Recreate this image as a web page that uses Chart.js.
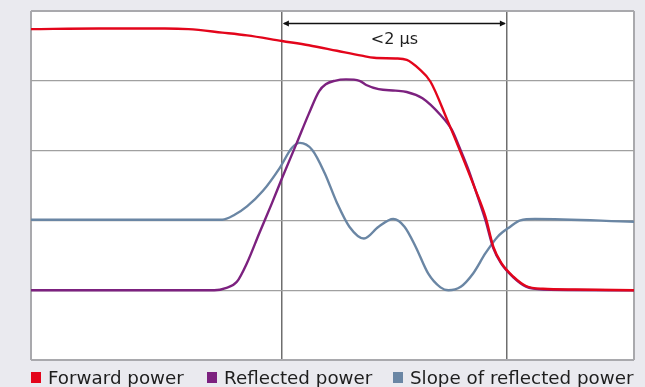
<!DOCTYPE html>
<html>
<head>
<meta charset="utf-8">
<script src="https://cdn.jsdelivr.net/npm/chart.js@4/dist/chart.umd.min.js"></script>
<style>
html, body { margin: 0; padding: 0; background: #eaeaef; overflow: hidden; }
#wrap { position: relative; width: 645px; height: 387px; }
#c { position: absolute; left: 0; top: 0; }
#legend { position: absolute; left: 0; top: 369px; width: 645px; height: 18px;
  font-family: "DejaVu Sans", sans-serif; font-size: 18.3px; line-height: 18px; color: #1e1e1e; white-space: nowrap; }
#legend .item { position: absolute; top: 0; display: flex; align-items: flex-start; }
#legend .box { width: 10px; height: 11px; margin-top: 3px; margin-right: 7px; }
</style>
</head>
<body>
<div id="wrap"><canvas id="c" width="645" height="387"></canvas><div id="legend"></div></div>
<script>
// ---- data (time in µs, amplitude in grid units) ----
const seriesNames = ['Forward power', 'Reflected power', 'Slope of reflected power'];
const seriesColors = ['#e3051b', '#7c217f', '#6a86a4'];

const forwardTime  = [0, 0.60, 1.19, 1.40, 1.70, 1.92, 2.23, 2.47, 2.72, 2.94, 3.05, 3.24, 3.34, 3.45, 3.55, 3.70, 3.81, 3.95, 4.04, 4.11, 4.18, 4.29, 4.40, 4.55, 4.84, 5.36];
const forwardPower = [4.74, 4.75, 4.75, 4.74, 4.69, 4.65, 4.57, 4.51, 4.43, 4.36, 4.33, 4.32, 4.30, 4.17, 3.99, 3.44, 3.01, 2.44, 2.05, 1.62, 1.39, 1.19, 1.06, 1.02, 1.01, 1.00];

const reflectedTime  = [0, 1.63, 1.73, 1.83, 1.92, 2.03, 2.14, 2.23, 2.36, 2.47, 2.56, 2.62, 2.70, 2.80, 2.92, 2.98, 3.09, 3.24, 3.34, 3.48, 3.64, 3.74, 3.81, 3.89, 3.96, 4.04, 4.11, 4.18, 4.29, 4.40, 4.55, 5.36];
const reflectedPower = [1.00, 1.00, 1.03, 1.12, 1.39, 1.82, 2.24, 2.60, 3.10, 3.53, 3.85, 3.95, 4.00, 4.02, 4.00, 3.94, 3.88, 3.86, 3.84, 3.75, 3.51, 3.30, 3.04, 2.72, 2.39, 2.00, 1.60, 1.38, 1.18, 1.05, 1.01, 1.00];

const slopeTime  = [0, 1.70, 1.81, 1.92, 2.06, 2.21, 2.32, 2.39, 2.50, 2.61, 2.72, 2.83, 2.96, 3.09, 3.22, 3.32, 3.42, 3.53, 3.64, 3.71, 3.82, 3.93, 4.04, 4.15, 4.26, 4.35, 4.48, 5.36];
const slopeValue = [2.01, 2.01, 2.08, 2.20, 2.42, 2.75, 3.04, 3.11, 3.01, 2.68, 2.25, 1.91, 1.74, 1.91, 2.02, 1.91, 1.62, 1.24, 1.04, 1.00, 1.05, 1.24, 1.53, 1.77, 1.91, 2.00, 2.02, 1.98];

const xMin = 0, xMax = 5.36;
const yMin = 0, yMax = 5, yStep = 1;
const xGridTicks = [0, 2.23, 4.23, 5.36];
const spanStart = 2.23, spanEnd = 4.23;
const spanLabel = '<2 µs';
const spanArrowY = 4.83, spanLabelY = 4.53;

// ---- styling / layout ----
const frameColor = '#a9a9ad';
const hGridColor = '#a0a0a0';
const vGridColor = '#6e6e6e';
const fontFamily = '"DejaVu Sans", sans-serif';
const legendItemLeft = [31, 207, 393];

const toPoints = (xs, ys) => xs.map((x, i) => ({ x, y: ys[i] }));

const chartAreaBg = {
  id: 'chartAreaBg',
  beforeDraw(chart) {
    const { ctx, chartArea: a } = chart;
    ctx.save();
    ctx.fillStyle = '#ffffff';
    ctx.fillRect(a.left, a.top, a.right - a.left, a.bottom - a.top);
    ctx.restore();
  }
};

const spanMarker = {
  id: 'spanMarker',
  afterDatasetsDraw(chart) {
    const { ctx, scales: { x, y } } = chart;
    const x1 = x.getPixelForValue(spanStart);
    const x2 = x.getPixelForValue(spanEnd);
    const ya = Math.round(y.getPixelForValue(spanArrowY)) + 0.5;
    ctx.save();
    ctx.strokeStyle = '#111';
    ctx.fillStyle = '#111';
    ctx.lineWidth = 1.3;
    ctx.beginPath();
    ctx.moveTo(x1 + 2, ya); ctx.lineTo(x2 - 2, ya);
    ctx.stroke();
    const ah = 6, aw = 3;
    ctx.beginPath();
    ctx.moveTo(x1 + 1, ya); ctx.lineTo(x1 + 1 + ah, ya - aw); ctx.lineTo(x1 + 1 + ah, ya + aw); ctx.closePath();
    ctx.fill();
    ctx.beginPath();
    ctx.moveTo(x2 - 1, ya); ctx.lineTo(x2 - 1 - ah, ya - aw); ctx.lineTo(x2 - 1 - ah, ya + aw); ctx.closePath();
    ctx.fill();
    ctx.font = '16px ' + fontFamily;
    ctx.textAlign = 'center';
    ctx.textBaseline = 'alphabetic';
    ctx.fillStyle = '#1e1e1e';
    ctx.fillText(spanLabel, (x1 + x2) / 2, y.getPixelForValue(spanLabelY));
    ctx.restore();
  }
};

const datasets = [
  { label: seriesNames[0], data: toPoints(forwardTime, forwardPower), borderColor: seriesColors[0], backgroundColor: seriesColors[0] },
  { label: seriesNames[1], data: toPoints(reflectedTime, reflectedPower), borderColor: seriesColors[1], backgroundColor: seriesColors[1] },
  { label: seriesNames[2], data: toPoints(slopeTime, slopeValue), borderColor: seriesColors[2], backgroundColor: seriesColors[2] }
].map(d => Object.assign(d, {
  borderWidth: 2.4,
  pointRadius: 0,
  pointHoverRadius: 0,
  cubicInterpolationMode: 'monotone',
  fill: false
}));

const chart = new Chart(document.getElementById('c'), {
  type: 'line',
  data: { datasets },
  options: {
    responsive: false,
    animation: false,
    events: [],
    layout: { padding: { left: 31, right: 11, top: 11, bottom: 27 } },
    scales: {
      x: {
        type: 'linear', min: xMin, max: xMax,
        afterBuildTicks: s => { s.ticks = xGridTicks.map(v => ({ value: v })); },
        ticks: { display: false },
        border: { display: false },
        grid: {
          drawTicks: false,
          color: c => (c.index === 0 || c.index === xGridTicks.length - 1) ? frameColor : vGridColor,
          lineWidth: c => (c.index === 0 || c.index === xGridTicks.length - 1) ? 2 : 1.5
        }
      },
      y: {
        type: 'linear', min: yMin, max: yMax,
        ticks: { display: false, stepSize: yStep },
        border: { display: false },
        grid: {
          drawTicks: false,
          color: c => (c.tick && (c.tick.value === yMin || c.tick.value === yMax)) ? frameColor : hGridColor,
          lineWidth: c => (c.tick && (c.tick.value === yMin || c.tick.value === yMax)) ? 2 : 1.2
        }
      }
    },
    plugins: {
      tooltip: { enabled: false },
      legend: { display: false }
    }
  },
  plugins: [chartAreaBg, spanMarker]
});

// HTML legend built from the chart's datasets
const legendEl = document.getElementById('legend');
chart.data.datasets.forEach((d, i) => {
  const item = document.createElement('div');
  item.className = 'item';
  item.style.left = legendItemLeft[i] + 'px';
  const box = document.createElement('span');
  box.className = 'box';
  box.style.background = d.borderColor;
  const txt = document.createElement('span');
  txt.textContent = d.label;
  item.appendChild(box);
  item.appendChild(txt);
  legendEl.appendChild(item);
});
</script>
</body>
</html>
